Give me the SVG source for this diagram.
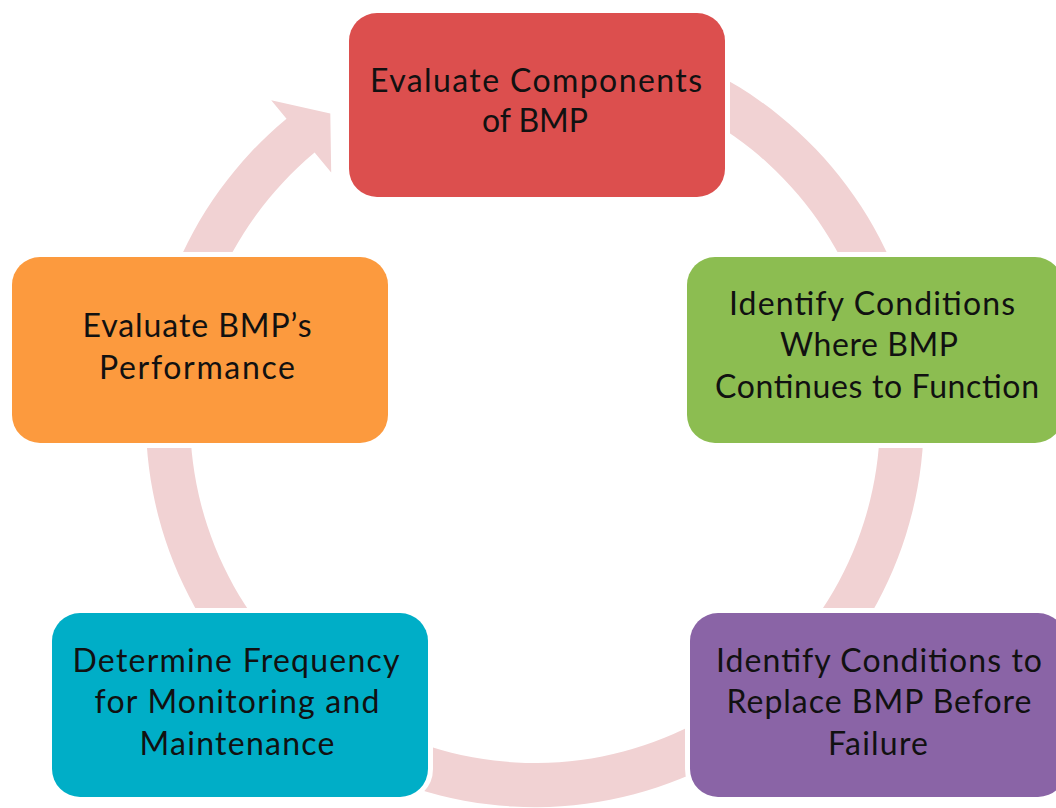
<svg xmlns="http://www.w3.org/2000/svg" width="1056" height="808" viewBox="0 0 1056 808">
  <style>
    .box { stroke: #ffffff; stroke-width: 10; paint-order: stroke; }
    .lbl { font-family: "Lato", "Open Sans", "Liberation Sans", sans-serif; font-size: 32px; fill: #111111; text-anchor: middle; }
    .ring { fill: #F1D2D3; }
  </style>
  <rect width="1056" height="808" fill="#ffffff"/>

  <!-- circular flow band with arrowhead -->
  <g id="connectors">
    <path class="ring" d="M364.5,68.4 A389,389 0 1 1 286.5,118.7 L271.2,100.2 L330.3,113.4 L331.2,172.6 L314.6,152.6 A345,345 0 1 0 383.8,107.9 Z"/>
  </g>

  <g id="node-evaluate-components">
    <rect class="box" x="349" y="13" width="376" height="184" rx="28" fill="#DC4F4E"/>
    <text class="lbl" x="536" y="92" textLength="332" lengthAdjust="spacing">Evaluate Components</text>
    <text class="lbl" x="535" y="132" textLength="106" lengthAdjust="spacing">of BMP</text>
  </g>

  <g id="node-identify-function">
    <rect class="box" x="687" y="257" width="376" height="186" rx="28" fill="#8CBD51"/>
    <text class="lbl" x="872" y="315" textLength="286" lengthAdjust="spacing">Identify Conditions</text>
    <text class="lbl" x="869" y="356" textLength="178" lengthAdjust="spacing">Where BMP</text>
    <text class="lbl" x="877" y="398" textLength="324" lengthAdjust="spacing">Continues to Function</text>
  </g>

  <g id="node-identify-replace">
    <rect class="box" x="690" y="613" width="376" height="184" rx="28" fill="#8A64A6"/>
    <text class="lbl" x="879" y="672" textLength="326" lengthAdjust="spacing">Identify Conditions to</text>
    <text class="lbl" x="879" y="713" textLength="305" lengthAdjust="spacing">Replace BMP Before</text>
    <text class="lbl" x="878" y="755" textLength="100" lengthAdjust="spacing">Failure</text>
  </g>

  <g id="node-frequency">
    <rect class="box" x="52" y="613" width="376" height="184" rx="28" fill="#00AEC7"/>
    <text class="lbl" x="236" y="672" textLength="327" lengthAdjust="spacing">Determine Frequency</text>
    <text class="lbl" x="237" y="713" textLength="285" lengthAdjust="spacing">for Monitoring and</text>
    <text class="lbl" x="237" y="755" textLength="195" lengthAdjust="spacing">Maintenance</text>
  </g>

  <g id="node-performance">
    <rect class="box" x="12" y="257" width="376" height="186" rx="28" fill="#FC9A3E"/>
    <text class="lbl" x="197" y="337" textLength="229" lengthAdjust="spacing">Evaluate BMP’s</text>
    <text class="lbl" x="197" y="379" textLength="196" lengthAdjust="spacing">Performance</text>
  </g>
</svg>
